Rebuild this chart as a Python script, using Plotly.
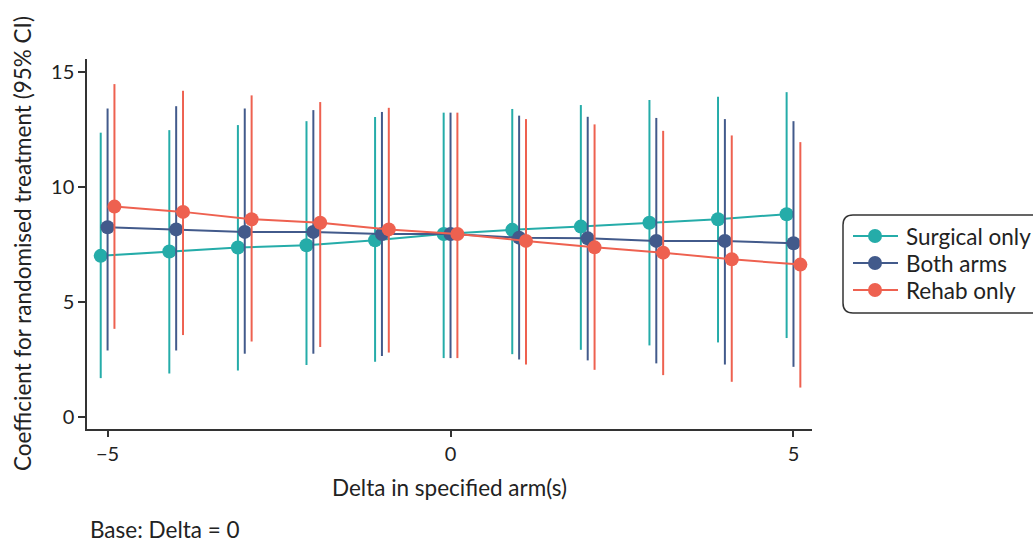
import plotly.graph_objects as go

delta = [-5, -4, -3, -2, -1, 0, 1, 2, 3, 4, 5]
series_names = ["Surgical only", "Both arms", "Rehab only"]

surg_coef = [7.00, 7.19, 7.36, 7.46, 7.68, 7.95, 8.13, 8.27, 8.44, 8.59, 8.81]
surg_lo = [1.69, 1.89, 2.02, 2.26, 2.40, 2.56, 2.73, 2.92, 3.11, 3.24, 3.43]
surg_hi = [12.35, 12.46, 12.68, 12.85, 13.03, 13.22, 13.38, 13.55, 13.77, 13.91, 14.11]

both_coef = [8.24, 8.15, 8.04, 8.04, 7.95, 7.95, 7.79, 7.76, 7.65, 7.65, 7.55]
both_lo = [2.89, 2.89, 2.75, 2.75, 2.65, 2.56, 2.50, 2.46, 2.33, 2.28, 2.18]
both_hi = [13.40, 13.50, 13.40, 13.33, 13.25, 13.22, 13.09, 13.04, 12.99, 12.94, 12.85]

rehab_coef = [9.14, 8.91, 8.59, 8.44, 8.15, 7.95, 7.65, 7.37, 7.14, 6.85, 6.62]
rehab_lo = [3.83, 3.56, 3.28, 3.04, 2.80, 2.56, 2.28, 2.05, 1.82, 1.53, 1.28]
rehab_hi = [14.46, 14.17, 13.97, 13.68, 13.43, 13.22, 12.94, 12.71, 12.43, 12.23, 11.94]

y_ticks = [0, 5, 10, 15]
x_ticks = [-5, 0, 5]

colors = ["#25ACA9", "#425A8B", "#EE6150"]
offsets = [-0.1, 0.0, 0.1]
FONT = "Lato"
TXT = "#222222"
TICK_SIZE = 20
TEXT_SIZE = 22.5

fig = go.Figure()
for name, coef, lo, hi, col, off in zip(
    series_names,
    [surg_coef, both_coef, rehab_coef],
    [surg_lo, both_lo, rehab_lo],
    [surg_hi, both_hi, rehab_hi],
    colors, offsets):
    fig.add_trace(go.Scatter(
        x=[d + off for d in delta], y=coef, name=name,
        mode="lines+markers",
        line=dict(color=col, width=2),
        marker=dict(color=col, size=14),
        error_y=dict(type="data", symmetric=False,
                     array=[h - c for h, c in zip(hi, coef)],
                     arrayminus=[c - l for c, l in zip(coef, lo)],
                     width=0, thickness=2, color=col),
        showlegend=False,
    ))

L, R, T, B = 87, 221, 59, 114
W, H = 1033, 543
pw, ph = W - L - R, H - T - B

def px(xp):
    return (xp - L) / pw

def py(yp):
    return (H - B - yp) / ph

# rounded legend box
x0, x1, y0, y1 = px(843), px(1045), py(313), py(215)
rx, ry = 10 / pw, 10 / ph
path = (f"M{x0+rx},{y1} L{x1-rx},{y1} Q{x1},{y1} {x1},{y1-ry} "
        f"L{x1},{y0+ry} Q{x1},{y0} {x1-rx},{y0} L{x0+rx},{y0} "
        f"Q{x0},{y0} {x0},{y0+ry} L{x0},{y1-ry} Q{x0},{y1} {x0+rx},{y1} Z")

shapes = [dict(type="path", xref="paper", yref="paper", path=path,
               line=dict(color="#333333", width=1.5),
               fillcolor="rgba(0,0,0,0)")]
annotations = []
legend_y = [236, 263, 290]
for name, col, ly in zip(series_names, colors, legend_y):
    shapes.append(dict(type="line", xref="paper", yref="paper",
                       x0=px(853), x1=px(898), y0=py(ly), y1=py(ly),
                       line=dict(color=col, width=2)))
    shapes.append(dict(type="circle", xref="paper", yref="paper",
                       xsizemode="pixel", ysizemode="pixel",
                       xanchor=px(875), yanchor=py(ly),
                       x0=-7, x1=7, y0=-7, y1=7,
                       fillcolor=col, line=dict(width=0)))
    annotations.append(dict(text=name, xref="paper", yref="paper",
                            x=px(905), y=py(ly), xanchor="left", yanchor="middle",
                            showarrow=False, borderpad=0,
                            font=dict(family=FONT, size=TEXT_SIZE, color=TXT)))

annotations += [
    dict(text="Delta in specified arm(s)", xref="paper", yref="paper",
         x=0.5, y=py(487), xanchor="center", yanchor="middle",
         showarrow=False, font=dict(family=FONT, size=TEXT_SIZE, color=TXT)),
    dict(text="Coefficient for randomised treatment (95% CI)", xref="paper",
         yref="paper", x=px(22), y=py(244), textangle=-90, xanchor="center",
         yanchor="middle", showarrow=False,
         font=dict(family=FONT, size=TEXT_SIZE, color=TXT)),
    dict(text="Base: Delta = 0", xref="paper", yref="paper",
         x=px(89), y=py(529), xanchor="left", yanchor="middle",
         showarrow=False, borderpad=0,
         font=dict(family=FONT, size=TEXT_SIZE, color=TXT)),
]

fig.update_layout(
    width=W, height=H,
    margin=dict(l=L, r=R, t=T, b=B, autoexpand=False),
    paper_bgcolor="white", plot_bgcolor="white",
    font=dict(family=FONT, size=TICK_SIZE, color=TXT),
    showlegend=False,
    shapes=shapes,
    annotations=annotations,
    xaxis=dict(range=[-5.3, 5.27], tickvals=x_ticks, showgrid=False,
               zeroline=False, showline=True, linecolor="#333333", linewidth=1.5,
               ticks="outside", ticklen=6, tickwidth=1.5, tickcolor="#333333",
               tickfont=dict(family=FONT, size=TICK_SIZE, color=TXT)),
    yaxis=dict(range=[-0.52, 15.55], tickvals=y_ticks, showgrid=False,
               zeroline=False, showline=True, linecolor="#333333", linewidth=1.5,
               ticks="outside", ticklen=7, tickwidth=1.5, tickcolor="#333333",
               tickfont=dict(family=FONT, size=TICK_SIZE, color=TXT)),
)

fig.write_html("out.html", config={"displayModeBar": False},
               post_script="document.body.style.margin='0px';document.body.style.padding='0px';")
